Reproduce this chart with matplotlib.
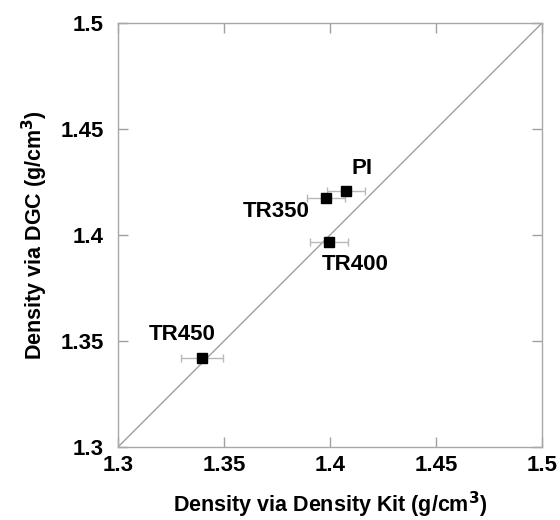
import numpy as np
from matplotlib import pyplot as plt

plt.rcParams['font.family'] = ['Liberation Sans', 'DejaVu Sans']
plt.rcParams['font.weight'] = 'bold'

# Density kit (x) vs DGC (y), with x error bars
names = ["PI", "TR350", "TR400", "TR450"]
kit = np.array([1.4075, 1.398, 1.3995, 1.3396])
dgc = np.array([1.4208, 1.4175, 1.3967, 1.342])
kit_err = np.array([0.009, 0.009, 0.009, 0.010])

# label offsets in points (dx, dy)
offsets = [(4, 16), (-12, -10), (-5, -16), (-14, 17)]
aligns = ["left", "right", "left", "center"]

ticks = [1.3, 1.35, 1.4, 1.45, 1.5]
tick_labels = ["1.3", "1.35", "1.4", "1.45", "1.5"]

fig = plt.figure(figsize=(5.6, 5.2), dpi=100)
ax = fig.add_axes([0.2107, 0.1404, 0.7573, 0.8154])

ax.plot([1.3, 1.5], [1.3, 1.5], color="#a0a0a0", lw=1.0)
ax.errorbar(kit, dgc, xerr=kit_err, fmt="s", color="black", ms=7.5,
            ecolor="#b8b8b8", elinewidth=1.0, capsize=3, capthick=1.0)

for n, x, y, (dx, dy), ha in zip(names, kit, dgc, offsets, aligns):
    ax.annotate(n, (x, y), xytext=(dx, dy), textcoords="offset points",
                ha=ha, va="center", fontsize=16, fontweight="bold")

ax.set_xlim(1.3, 1.5)
ax.set_ylim(1.3, 1.5)
ax.set_xticks(ticks)
ax.set_xticklabels(tick_labels)
ax.set_yticks(ticks)
ax.set_yticklabels(tick_labels)
ax.tick_params(direction="in", length=7, width=1, color="#a0a0a0",
               labelsize=16, top=True, right=True)
ax.tick_params(axis="y", pad=10)
ax.tick_params(axis="x", pad=6)
for s in ax.spines.values():
    s.set_color("#a8a8a8")
    s.set_linewidth(1)

ax.set_xlabel("Density via Density Kit (g/cm$^\\mathbf{3}$)", fontsize=15.5,
              fontweight="bold", labelpad=10)
ax.set_ylabel("Density via DGC (g/cm$^\\mathbf{3}$)", fontsize=15.5,
              fontweight="bold", labelpad=8)

fig.savefig("out.png", dpi=100)
